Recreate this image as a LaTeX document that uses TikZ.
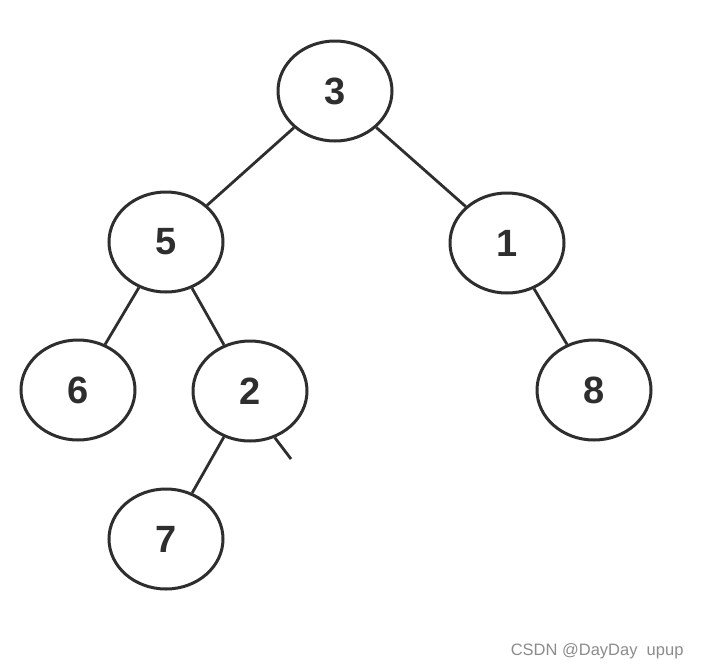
\documentclass[tikz,border=0pt]{standalone}
\usepackage{fontspec}
\setmainfont{Liberation Sans}
\usetikzlibrary{shapes.geometric}
\definecolor{ink}{HTML}{2E2E2E}
\tikzset{
  treenode/.style={ellipse, draw=ink, line width=3pt, fill=white,
    minimum width=114pt, minimum height=100pt, inner sep=0pt,
    font=\fontsize{38}{40}\selectfont\bfseries, text=ink},
  treeedge/.style={draw=ink, line width=2.8pt}
}
\begin{document}
\begin{tikzpicture}[x=1pt,y=-1pt]
\useasboundingbox[fill=white] (0,0) rectangle (701,670);
\node[treenode] (n3) at (335,91) {3};
\node[treenode] (n5) at (166,242) {5};
\node[treenode] (n1) at (507,243) {1};
\node[treenode] (n6) at (78,390) {6};
\node[treenode] (n2) at (250,391) {2};
\node[treenode] (n8) at (594,390) {8};
\node[treenode] (n7) at (166,539) {7};
\coordinate (stub) at (291,459);
\draw[treeedge] (n3) -- (n5);
\draw[treeedge] (n3) -- (n1);
\draw[treeedge] (n5) -- (n6);
\draw[treeedge] (n5) -- (n2);
\draw[treeedge] (n1) -- (n8);
\draw[treeedge] (n2) -- (n7);
\draw[treeedge] (n2.-62) -- (stub);
\node[anchor=east, text=gray!90, font=\fontsize{16.5}{18}\selectfont] (wm) at (687,651) {CSDN @DayDay\ \ upup};
\end{tikzpicture}
\end{document}
